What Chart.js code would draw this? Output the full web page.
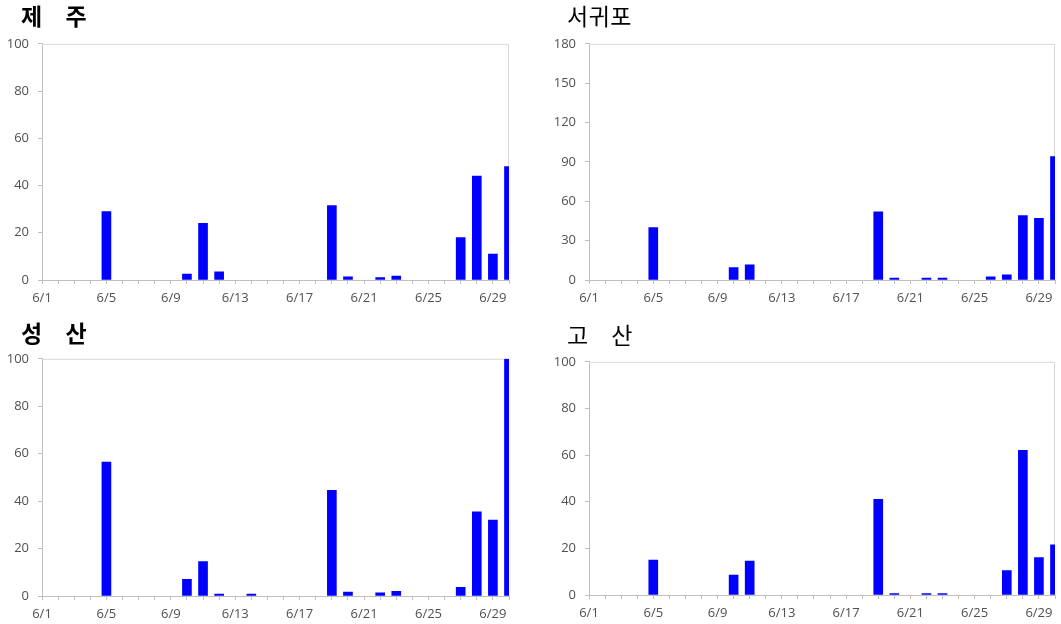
<!DOCTYPE html>
<html>
<head>
<meta charset="utf-8">
<script src="https://cdn.jsdelivr.net/npm/chart.js@4"></script>
<style>
  body { margin: 0; background: #fff; width: 1061px; height: 624px; overflow: hidden; position: relative; }
  canvas { position: absolute; }
  .ttl { position: absolute; font-family: "Noto Sans CJK KR", sans-serif; font-size: 23px; line-height: 1; color: #000; white-space: pre; }
</style>
</head>
<body>
<canvas id="jeju" width="515" height="283" style="left:0;top:27px"></canvas>
<canvas id="seogwipo" width="514" height="283" style="left:547px;top:27px"></canvas>
<canvas id="seongsan" width="515" height="284" style="left:0;top:342px"></canvas>
<canvas id="gosan" width="514" height="280" style="left:547px;top:345px"></canvas>
<div class="ttl" style="left:21px;top:4px;font-weight:700;word-spacing:18px">제 주</div>
<div class="ttl" style="left:567px;top:4px;letter-spacing:0.5px">서귀포</div>
<div class="ttl" style="left:21px;top:321px;font-weight:700;word-spacing:18px">성 산</div>
<div class="ttl" style="left:567px;top:323px;word-spacing:18px">고 산</div>
<script>
// daily values for June, one bar per day (6/1 .. 6/30); null = no bar
const DAYS = [1, 2, 3, 4, 5, 6, 7, 8, 9, 10, 11, 12, 13, 14, 15, 16, 17, 18, 19, 20, 21, 22, 23, 24, 25, 26, 27, 28, 29, 30];
const JEJU     = [null, null, null, null, 29, null, null, null, null, 2.5, 24, 3.5, null, null, null, null, null, null, 31.5, 1.3, null, 1, 1.7, null, null, null, 18, 44, 11, 48];
const SEOGWIPO = [null, null, null, null, 40, null, null, null, null, 9.5, 11.5, null, null, null, null, null, null, null, 52, 1.5, null, 1.5, 1.5, null, null, 2.5, 4, 49, 47, 94];
const SEONGSAN = [null, null, null, null, 56.5, null, null, null, null, 7, 14.5, 0.8, null, 0.8, null, null, null, null, 44.5, 1.7, null, 1.3, 2, null, null, null, 3.7, 35.5, 32, 100];
const GOSAN    = [null, null, null, null, 15, null, null, null, null, 8.5, 14.5, null, null, null, null, null, null, null, 41, 0.6, null, 0.6, 0.6, null, null, null, 10.5, 62, 16, 21.5];

const AXIS = "#bfbfbf", TICK_TXT = "#505050", BAR = "#0000ff";
const FONT = { family: "'Open Sans', sans-serif", size: 13 };

// light frame around the plot area (top and right edges)
const frame = {
  id: "frame",
  beforeDatasetsDraw(chart) {
    const a = chart.chartArea, ctx = chart.ctx;
    ctx.save();
    ctx.strokeStyle = "#d9d9d9";
    ctx.lineWidth = 1;
    ctx.beginPath();
    ctx.moveTo(a.left, a.top + 0.5); ctx.lineTo(a.right - 0.5, a.top + 0.5); ctx.lineTo(a.right - 0.5, a.bottom);
    ctx.stroke();
    ctx.restore();
  }
};

function makeChart(id, values, yMax, yStep, padRight) {
  new Chart(document.getElementById(id), {
    type: "bar",
    data: {
      datasets: [{
        data: DAYS.map((d, i) => ({ x: d, y: values[i] })),
        backgroundColor: BAR, borderWidth: 0, barThickness: 9,
      }],
    },
    options: {
      responsive: false, animation: false, devicePixelRatio: 1,
      layout: { padding: { top: 0, right: padRight, left: 0, bottom: 0 } },
      plugins: { legend: { display: false }, tooltip: { enabled: false } },
      scales: {
        x: {
          type: "linear", min: 1, max: 30, offset: false,
          afterFit: s => { s.height = 30; },
          border: { color: AXIS },
          grid: { drawOnChartArea: false, offset: false, tickLength: 4, color: AXIS },
          ticks: {
            stepSize: 1, autoSkip: false, maxRotation: 0, padding: 6, color: TICK_TXT, font: FONT,
            callback: v => ((v - 1) % 4 === 0 ? "6/" + v : ""),
          },
        },
        y: {
          min: 0, max: yMax,
          afterFit: s => { s.width = 42; },
          border: { color: AXIS },
          grid: { drawOnChartArea: false, tickLength: 4, color: AXIS },
          ticks: { stepSize: yStep, padding: 9, color: TICK_TXT, font: FONT },
        },
      },
    },
    plugins: [frame],
  });
}

makeChart("jeju", JEJU, 100, 20, 6);
makeChart("seogwipo", SEOGWIPO, 180, 30, 3);
makeChart("seongsan", SEONGSAN, 100, 20, 6);
makeChart("gosan", GOSAN, 100, 20, 3);
</script>
</body>
</html>
